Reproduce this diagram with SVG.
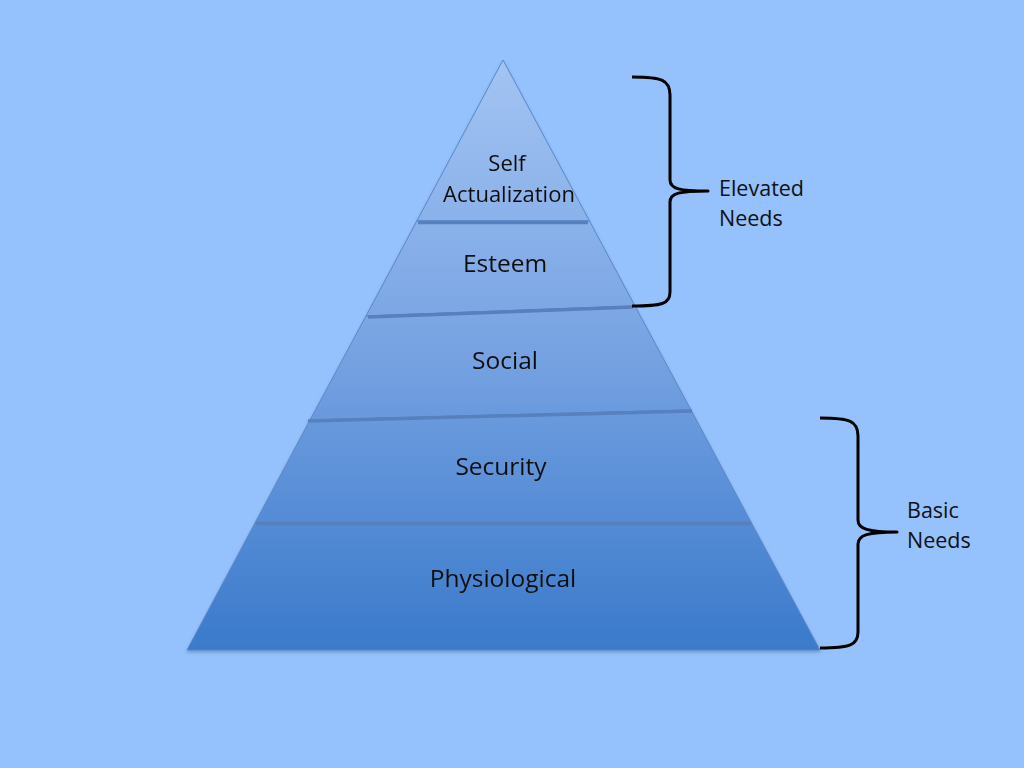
<svg xmlns="http://www.w3.org/2000/svg" width="1024" height="768" viewBox="0 0 1024 768">
<defs>
<linearGradient id="g" gradientUnits="userSpaceOnUse" x1="0" y1="60" x2="0" y2="650">
<stop offset="0" stop-color="#a3c4f3"/>
<stop offset="0.5" stop-color="#76a2e2"/>
<stop offset="1" stop-color="#3a7acb"/>
</linearGradient>
<filter id="sh" x="-5%" y="-5%" width="110%" height="115%">
<feDropShadow dx="0" dy="2" stdDeviation="1.5" flood-color="#2a4f80" flood-opacity="0.35"/>
</filter>
</defs>
<style>
.layer{fill:url(#g);stroke:#5b88c8;stroke-width:1}
.div{stroke:#5680be;stroke-width:3.5;fill:none;stroke-linecap:butt}
.lbl{font-family:"Open Sans","Liberation Sans",sans-serif;font-size:24.5px;fill:#111;text-anchor:middle}
.lbs{font-family:"Open Sans","Liberation Sans",sans-serif;font-size:22px;fill:#111;text-anchor:middle}
.side{font-family:"Open Sans","Liberation Sans",sans-serif;font-size:21.5px;fill:#111}
.brace{fill:none;stroke:#000;stroke-width:3;stroke-linejoin:round}
</style>
<rect x="0" y="0" width="1024" height="768" fill="#95c1fc"/>
<g filter="url(#sh)">
<g id="self-actualization">
<polygon class="layer" points="503,60 589.5,221 416.8,221"/>
<text class="lbs" x="507" y="171">Self</text>
<text class="lbs" x="509" y="202">Actualization</text>
</g>
<g id="esteem">
<polygon class="layer" points="416.8,221 589.5,221 635,306 366,316"/>
<line class="div" x1="418" y1="222.5" x2="588" y2="222.5"/>
<text class="lbl" x="505" y="272">Esteem</text>
</g>
<g id="social">
<polygon class="layer" points="366,316 635,306 691,410 310,420"/>
<line class="div" x1="368" y1="317" x2="633" y2="307"/>
<text class="lbl" x="505" y="369">Social</text>
</g>
<g id="security">
<polygon class="layer" points="310,420 691,410 751,522 255.5,522"/>
<line class="div" x1="308" y1="421" x2="692" y2="411"/>
<text class="lbl" x="501" y="475">Security</text>
</g>
<g id="physiological">
<polygon class="layer" points="255.5,522 751,522 820,650 187,650"/>
<line class="div" x1="256" y1="523.5" x2="751" y2="523.5"/>
<text class="lbl" x="503" y="587">Physiological</text>
</g>
</g>
<g id="connectors">
<path class="brace" d="M632,77 C662,77 670,80 670,95 L670,180 C670,189 680,191 708,191 C680,191 670,193 670,202 L670,292 C670,304 662,306 632,306"/>
<path class="brace" d="M820,418 C850,418 858,421 858,436 L858,520 C858,529 868,532 897,532 C868,532 858,535 858,544 L858,632 C858,645 850,648 820,648"/>
</g>
<g id="elevated-needs">
<text class="side" x="719" y="196">Elevated</text>
<text class="side" x="719" y="226">Needs</text>
</g>
<g id="basic-needs">
<text class="side" x="907" y="518">Basic</text>
<text class="side" x="907" y="548">Needs</text>
</g>
</svg>
